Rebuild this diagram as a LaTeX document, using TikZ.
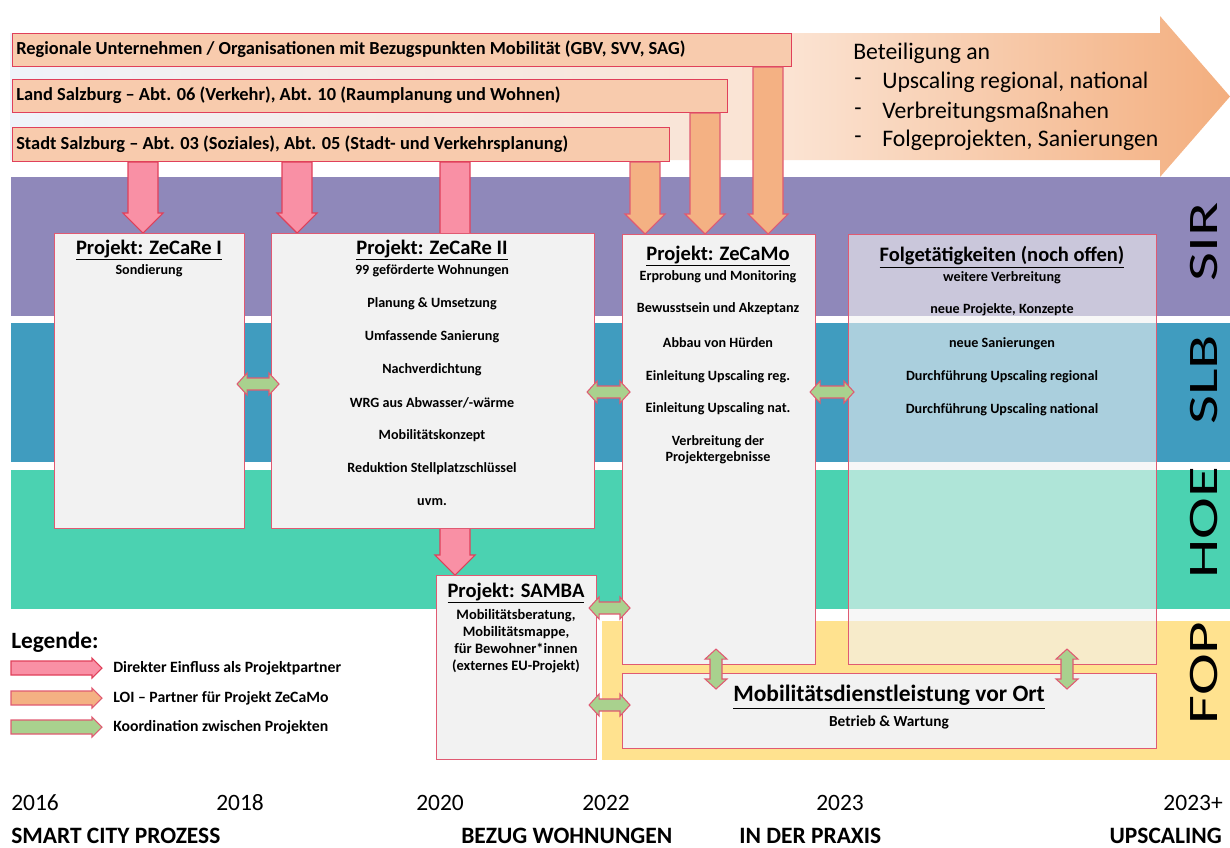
\documentclass[tikz,border=0pt]{standalone}
\usepackage{fontspec}
\setmainfont{Carlito}
\usetikzlibrary{calc}
\definecolor{barfill}{HTML}{F8CBAD}
\definecolor{redline}{HTML}{E0405A}
\definecolor{boxline}{HTML}{E05A72}
\definecolor{pinkA}{HTML}{F990A5}
\definecolor{orangeA}{HTML}{F4B183}
\definecolor{greenA}{HTML}{A9D18E}
\definecolor{boxfill}{HTML}{F2F2F2}
\definecolor{sir}{HTML}{8F88BA}
\definecolor{slb}{HTML}{409CBF}
\definecolor{hoe}{HTML}{4BD2B1}
\definecolor{fop}{HTML}{FFE28F}
\definecolor{gA}{HTML}{EFF3FA}
\definecolor{gB}{HTML}{FBE3D2}
\definecolor{gC}{HTML}{F3AE7E}
\pgfdeclarehorizontalshading{bigarrowshade}{100bp}{color(0bp)=(gA); color(25bp)=(gA); color(57bp)=(gB); color(75bp)=(gC); color(100bp)=(gC)}
% down block arrow: style, x(px), top node, bottom node
\newcommand\DArrow[4]{%
  \draw[#1] let \p1=(#3.south -| #2,0), \p2=(#4.north -| #2,0) in
    (\x1-11.25pt,\y1) -- (\x1+11.25pt,\y1) -- (\x1+11.25pt,\y2+15pt) -- (\x1+15pt,\y2+15pt)
    -- (\x1,\y2) -- (\x1-15pt,\y2+15pt) -- (\x1-11.25pt,\y2+15pt) -- cycle;}
% horizontal double arrow: y(px), left node, right node, overlap(px)
\newcommand\HDArrow[4]{%
  \draw[greenarr] let \p1=($(#2.east |- 0,#1)+(-#4,0)$), \p2=($(#3.west |- 0,#1)+(#4,0)$) in
    (\x1,\y1) -- (\x1+7.5pt,\y1+8.25pt) -- (\x1+7.5pt,\y1+4.5pt) -- (\x2-7.5pt,\y1+4.5pt)
    -- (\x2-7.5pt,\y1+8.25pt) -- (\x2,\y1) -- (\x2-7.5pt,\y1-8.25pt) -- (\x2-7.5pt,\y1-4.5pt)
    -- (\x1+7.5pt,\y1-4.5pt) -- (\x1+7.5pt,\y1-8.25pt) -- cycle;}
% vertical double arrow: x(px), top node, bottom node, overlap(px)
\newcommand\VDArrow[4]{%
  \draw[greenarr] let \p1=($(#2.south -| #1,0)+(0,-#4)$), \p2=($(#3.north -| #1,0)+(0,#4)$) in
    (\x1,\y1) -- (\x1+8.25pt,\y1-7.5pt) -- (\x1+4.5pt,\y1-7.5pt) -- (\x1+4.5pt,\y2+7.5pt)
    -- (\x1+8.25pt,\y2+7.5pt) -- (\x1,\y2) -- (\x1-8.25pt,\y2+7.5pt) -- (\x1-4.5pt,\y2+7.5pt)
    -- (\x1-4.5pt,\y1-7.5pt) -- (\x1-8.25pt,\y1-7.5pt) -- cycle;}
% legend right arrow: style, start coord, end coord
\newcommand\RArrow[3]{%
  \draw[#1] let \p1=(#2), \p2=(#3) in
    (\x1,\y1+5.25pt) -- (\x2-7.5pt,\y1+5.25pt) -- (\x2-7.5pt,\y1+7.5pt) -- (\x2,\y1)
    -- (\x2-7.5pt,\y1-7.5pt) -- (\x2-7.5pt,\y1-5.25pt) -- (\x1,\y1-5.25pt) -- cycle;}
\tikzset{
  wh/.style 2 args={minimum width=#1*0.75pt, minimum height=#2*0.75pt},
  bar/.style={draw=redline, fill=barfill, line width=0.8pt, inner sep=0pt, anchor=north west},
  pbox/.style={draw=boxline, fill=boxfill, line width=0.8pt, inner sep=0pt, anchor=north west},
  band/.style={inner sep=0pt, anchor=north west},
  pinkarr/.style={draw=redline, fill=pinkA, line width=0.8pt},
  orarr/.style={draw=boxline, fill=orangeA, line width=0.8pt},
  greenarr/.style={draw=boxline, fill=greenA, line width=0.8pt},
  bartext/.style={font=\bfseries\fontsize{13.8}{16}\selectfont, anchor=west, inner sep=0pt},
  ptitle/.style={font=\bfseries\fontsize{15.4}{18}\selectfont, inner sep=0pt},
  pbody/.style={font=\bfseries\fontsize{10.6}{12.75}\selectfont, inner sep=0pt, align=center},
  bigtext/.style={font=\fontsize{17.8}{20}\selectfont, anchor=west, inner sep=0pt},
  year/.style={font=\fontsize{17.6}{20}\selectfont, inner sep=0pt},
  phase/.style={font=\bfseries\fontsize{17.6}{20}\selectfont, inner sep=0pt},
  legtext/.style={font=\bfseries\fontsize{11.8}{14}\selectfont, anchor=west, inner sep=0pt},
  bandlabel/.style={font=\fontsize{31.5}{34}\selectfont, rotate=90, inner sep=0pt},
}
\begin{document}
\begin{tikzpicture}[x=0.75pt,y=-0.75pt]
\useasboundingbox (0,0) rectangle (1230,847);
% big background arrow
\shade[shading=bigarrowshade] (10,33) -- (1160,33) -- (1160,16) -- (1230,96.5) -- (1160,177) -- (1160,160) -- (10,160) -- cycle;
% bands
\node[band, fill=sir, wh={1219}{139}] (sirband) at (11,177) {};
\node[band, fill=slb, wh={1219}{139}] (slbband) at (11,323) {};
\node[band, fill=hoe, wh={1219}{139}] (hoeband) at (11,470) {};
\node[band, fill=fop, wh={628}{139}] (fopband) at (602,621) {};
\node[bandlabel] (lsir) at (1204,242) {\scalebox{1.5}[1]{SIR}};
\node[bandlabel] (lslb) at (1204,380) {\scalebox{1.5}[1]{SLB}};
\node[bandlabel] (lhoe) at (1204,523) {\scalebox{1.5}[1]{HOE}};
\node[bandlabel] (lfop) at (1204,673) {\scalebox{1.5}[1]{FOP}};
% top bars
\node[bar, wh={779}{33}] (bar1) at (12,33) {};
\node[bar, wh={715}{33}] (bar2) at (12,79) {};
\node[bar, wh={657}{34}] (bar3) at (12,127) {};
\node[bartext] (bar1t) at (16,49.5) {Regionale Unternehmen / Organisationen mit Bezugspunkten Mobilität (GBV, SVV, SAG)};
\node[bartext] (bar2t) at (16,95.5) {Land Salzburg – Abt. 06 (Verkehr), Abt. 10 (Raumplanung und Wohnen)};
\node[bartext] (bar3t) at (16,144) {Stadt Salzburg – Abt. 03 (Soziales), Abt. 05 (Stadt- und Verkehrsplanung)};
% right arrow text
\node[bigtext] (bt0) at (853,53) {Beteiligung an};
\node[bigtext] (bd1) at (854,82) {-};
\node[bigtext] (bt1) at (882,82) {Upscaling regional, national};
\node[bigtext] (bd2) at (854,112) {-};
\node[bigtext] (bt2) at (882,112) {Verbreitungsmaßnahen};
\node[bigtext] (bd3) at (854,140) {-};
\node[bigtext] (bt3) at (882,140) {Folgeprojekten, Sanierungen};
% invisible frames for box tops (used by arrows)
\node[pbox, wh={190}{295}, draw=none, fill=none] (zr1) at (54,233) {};
\node[pbox, wh={323}{295}, draw=none, fill=none] (zr2) at (271,233) {};
\node[pbox, wh={193}{430}, draw=none, fill=none] (zcm) at (622,234) {};
\node[pbox, wh={160}{184}, draw=none, fill=none] (samba) at (436,575) {};
% influence arrows
\DArrow{pinkarr}{143}{bar3}{zr1}
\DArrow{pinkarr}{297}{bar3}{zr2}
\DArrow{pinkarr}{455}{bar3}{samba}
\DArrow{orarr}{645}{bar3}{zcm}
\DArrow{orarr}{705}{bar2}{zcm}
\DArrow{orarr}{768}{bar1}{zcm}
% project boxes
\node[pbox, wh={190}{295}] (zr1b) at (54,233) {};
\node[pbox, wh={323}{295}] (zr2b) at (271,233) {};
\node[pbox, wh={193}{430}] (zcmb) at (622,234) {};
\node[pbox, wh={160}{184}] (sambab) at (436,575) {};
\node[pbox, wh={308}{430}, fill opacity=0.6] (folge) at (848,234) {};
\node[pbox, wh={534}{75}] (mobil) at (622,673) {};
% ZeCaRe I
\node[ptitle] (zr1t) at (149,250) {\underline{Projekt: ZeCaRe I}};
\node[pbody] (zr1l1) at (149,271) {Sondierung};
% ZeCaRe II
\node[ptitle] (zr2t) at (432,250) {\underline{Projekt: ZeCaRe II}};
\foreach \t [count=\i] in {99 geförderte Wohnungen, Planung \& Umsetzung, Umfassende Sanierung, Nachverdichtung, WRG aus Abwasser/-wärme, Mobilitätskonzept, Reduktion Stellplatzschlüssel, uvm.}
  \node[pbody] (zr2l\i) at (432,{271+33*(\i-1)}) {\t};
% ZeCaMo
\node[ptitle] (zcmt) at (718,256) {\underline{Projekt: ZeCaMo}};
\node[pbody] (zcml1) at (718,277) {Erprobung und Monitoring};
\node[pbody] (zcml2) at (718,309) {Bewusstsein und Akzeptanz};
\node[pbody] (zcml3) at (718,343) {Abbau von Hürden};
\node[pbody] (zcml4) at (718,377) {Einleitung Upscaling reg.};
\node[pbody] (zcml5) at (718,409) {Einleitung Upscaling nat.};
\node[pbody, font=\bfseries\fontsize{10.6}{12}\selectfont] (zcml6) at (718,450) {Verbreitung der\\Projektergebnisse};
% Folgetaetigkeiten
\node[ptitle] (folget) at (1002,257) {\underline{Folgetätigkeiten (noch offen)}};
\node[pbody] (folgel1) at (1002,278) {weitere Verbreitung};
\node[pbody] (folgel2) at (1002,310) {neue Projekte, Konzepte};
\node[pbody] (folgel3) at (1002,344) {neue Sanierungen};
\node[pbody] (folgel4) at (1002,377) {Durchführung Upscaling regional};
\node[pbody] (folgel5) at (1002,410) {Durchführung Upscaling national};
% SAMBA
\node[ptitle] (sambat) at (516,593) {\underline{Projekt: SAMBA}};
\node[pbody, font=\bfseries\fontsize{10.8}{12.75}\selectfont] (sambal) at (516,641) {Mobilitätsberatung,\\Mobilitätsmappe,\\für Bewohner*innen\\(externes EU-Projekt)};
% Mobilitaetsdienstleistung
\node[ptitle, font=\bfseries\fontsize{17.6}{20}\selectfont] (mobilt) at (889,697) {\underline{Mobilitätsdienstleistung vor Ort}};
\node[pbody, font=\bfseries\fontsize{11.5}{13}\selectfont] (mobill) at (889,722) {Betrieb \& Wartung};
% coordination arrows
\HDArrow{384}{zr1b}{zr2b}{8}
\HDArrow{392}{zr2b}{zcmb}{8}
\HDArrow{392}{zcmb}{folge}{6}
\HDArrow{608}{sambab}{zcmb}{8}
\HDArrow{705}{sambab}{mobil}{8}
\VDArrow{716}{zcmb}{mobil}{16}
\VDArrow{1067}{folge}{mobil}{16}
% legend
\node[font=\bfseries\fontsize{17.5}{20}\selectfont, anchor=west, inner sep=0pt] (legt) at (11,642) {Legende:};
\coordinate (l1a) at (11,668); \coordinate (l1b) at (102,668);
\coordinate (l2a) at (11,698); \coordinate (l2b) at (102,698);
\coordinate (l3a) at (11,727); \coordinate (l3b) at (102,727);
\RArrow{pinkarr}{l1a}{l1b}
\RArrow{orarr}{l2a}{l2b}
\RArrow{greenarr}{l3a}{l3b}
\node[legtext] (leg1) at (113,668) {Direkter Einfluss als Projektpartner};
\node[legtext] (leg2) at (113,698) {LOI – Partner für Projekt ZeCaMo};
\node[legtext] (leg3) at (113,727) {Koordination zwischen Projekten};
% timeline
\node[year, anchor=base west] (y2016) at (11,810) {2016};
\node[year, anchor=base west] (y2018) at (216,810) {2018};
\node[year, anchor=base west] (y2020) at (416,810) {2020};
\node[year, anchor=base west] (y2022) at (582,810) {2022};
\node[year, anchor=base west] (y2023) at (816,810) {2023};
\node[year, anchor=base east] (y2023p) at (1223,810) {2023+};
\node[phase, anchor=base west] (ph1) at (11,843) {SMART CITY PROZESS};
\node[phase, anchor=base west] (ph2) at (461,843) {BEZUG WOHNUNGEN};
\node[phase, anchor=base west] (ph3) at (739,843) {IN DER PRAXIS};
\node[phase, anchor=base east] (ph4) at (1222,843) {UPSCALING};
\end{tikzpicture}
\end{document}
